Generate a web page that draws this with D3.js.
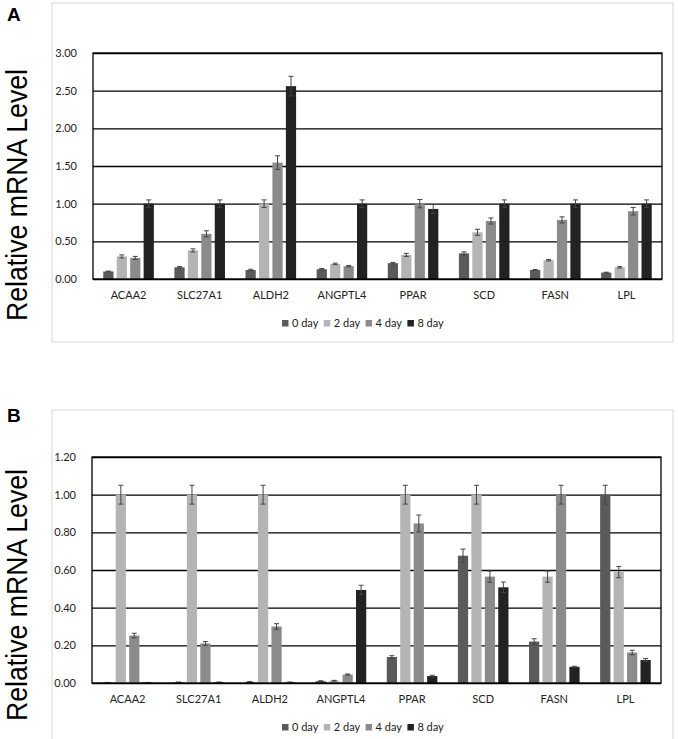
<!DOCTYPE html>
<html>
<head>
<meta charset="utf-8">
<script src="https://cdn.jsdelivr.net/npm/d3@7"></script>
<style>
  body { margin: 0; background: #fff; }
  svg text { font-family: Lato, "Liberation Sans", sans-serif; }
</style>
</head>
<body>
<div id="chart"></div>
<script>
// categories and series
var genes = ["ACAA2", "SLC27A1", "ALDH2", "ANGPTL4", "PPAR", "SCD", "FASN", "LPL"];
var days = ["0 day", "2 day", "4 day", "8 day"];

// panel A values (rows = days)
var valuesA = [
    [0.10, 0.155, 0.12, 0.13, 0.21, 0.34, 0.12, 0.085],
    [0.30, 0.38, 1.00, 0.20, 0.32, 0.62, 0.25, 0.155],
    [0.28, 0.60, 1.545, 0.17, 1.00, 0.77, 0.785, 0.90],
    [1.00, 1.00, 2.56, 1.00, 0.93, 1.00, 1.00, 1.00]
];
var errorsA = [
    [0.005, 0.01, 0.01, 0.01, 0.01, 0.02, 0.005, 0.005],
    [0.02, 0.02, 0.05, 0.01, 0.02, 0.04, 0.01, 0.01],
    [0.02, 0.04, 0.09, 0.01, 0.055, 0.04, 0.04, 0.05],
    [0.05, 0.05, 0.13, 0.05, 0.06, 0.05, 0.05, 0.05]
];
var ticksA = [0, 0.5, 1, 1.5, 2, 2.5, 3];

// panel B values
var valuesB = [
    [0.002, 0.004, 0.006, 0.01, 0.138, 0.676, 0.22, 1.00],
    [1.00, 1.00, 1.00, 0.012, 1.00, 1.00, 0.565, 0.589],
    [0.252, 0.21, 0.30, 0.045, 0.847, 0.565, 1.00, 0.162],
    [0.002, 0.004, 0.004, 0.494, 0.037, 0.508, 0.086, 0.122]
];
var errorsB = [
    [0.001, 0.001, 0.001, 0.002, 0.007, 0.035, 0.015, 0.05],
    [0.05, 0.05, 0.05, 0.002, 0.05, 0.05, 0.03, 0.03],
    [0.012, 0.01, 0.015, 0.003, 0.045, 0.03, 0.05, 0.012],
    [0.001, 0.001, 0.001, 0.025, 0.004, 0.028, 0.003, 0.008]
];
var ticksB = [0, 0.2, 0.4, 0.6, 0.8, 1.0, 1.2];

var colors = ["#5a5a5a", "#b4b4b4", "#8b8b8b", "#222222"];

var svg = d3.select("#chart").append("svg")
    .attr("width", 678)
    .attr("height", 739);

function renderPanel(p) {
    // outer light frame
    svg.append("rect")
        .attr("x", p.frame[0]).attr("y", p.frame[1])
        .attr("width", p.frame[2]).attr("height", p.frame[3])
        .style("fill", "none").style("stroke", "#dcdcdc").style("stroke-width", 1.2);

    svg.append("text")
        .attr("x", 7).attr("y", p.letterY)
        .style("font-family", "Liberation Sans, Arial, sans-serif")
        .style("font-weight", "bold").style("font-size", "19px")
        .text(p.letter);

    // big y label, squeezed a bit along its length like the original
    svg.append("text")
        .attr("transform", "translate(27," + p.labelY + ") rotate(-90)")
        .attr("text-anchor", "middle")
        .attr("textLength", 252)
        .attr("lengthAdjust", "spacingAndGlyphs")
        .style("font-family", "Liberation Sans, Arial, sans-serif")
        .style("font-size", "30px")
        .text("Relative mRNA Level");

    var left = p.plot[0], top = p.plot[1], right = p.plot[2], bottom = p.plot[3];
    var width = right - left, height = bottom - top;

    var g = svg.append("g").attr("transform", "translate(" + left + "," + top + ")");

    var x0 = d3.scaleBand().domain(genes).range([0, width]).paddingInner(0.27).paddingOuter(0.135);
    var x1 = d3.scaleBand().domain(days).range([0, x0.bandwidth()]).paddingInner(0.24).paddingOuter(0.05);
    var y = d3.scaleLinear().domain([0, p.max]).range([height, 0]);

    // gridlines
    g.append("g")
        .call(d3.axisLeft(y).tickValues(p.ticks).tickSize(-width).tickFormat(""))
        .call(function (s) { s.select(".domain").remove(); })
        .selectAll("line").style("stroke", "#000").style("stroke-width", 1.3);

    // y tick labels
    g.append("g")
        .call(d3.axisLeft(y).tickValues(p.ticks).tickSize(0).tickPadding(16).tickFormat(d3.format(".2f")))
        .call(function (s) { s.select(".domain").remove(); })
        .selectAll("text").style("font-size", "11px").style("fill", "#222");

    // x category labels
    g.append("g")
        .attr("transform", "translate(0," + height + ")")
        .call(d3.axisBottom(x0).tickSize(0).tickPadding(12))
        .call(function (s) { s.select(".domain").remove(); })
        .selectAll("text").style("font-size", "11px").style("fill", "#222");

    var rows = [];
    genes.forEach(function (gene, i) {
        days.forEach(function (day, j) {
            rows.push({ gene: gene, day: day, s: j, v: p.values[j][i], e: p.errors[j][i] });
        });
    });

    g.selectAll("rect.bar")
        .data(rows)
        .enter().append("rect")
        .attr("class", "bar")
        .attr("x", function (d) { return x0(d.gene) + x1(d.day); })
        .attr("width", x1.bandwidth())
        .attr("y", function (d) { return y(d.v); })
        .attr("height", function (d) { return height - y(d.v); })
        .style("fill", function (d) { return colors[d.s]; });

    // error bars
    var eb = g.selectAll("g.err")
        .data(rows)
        .enter().append("g")
        .attr("class", "err")
        .attr("transform", function (d) { return "translate(" + (x0(d.gene) + x1(d.day) + x1.bandwidth() / 2) + ",0)"; })
        .style("stroke", "#444").style("stroke-width", 1);
    eb.append("line")
        .attr("y1", function (d) { return y(d.v + d.e); })
        .attr("y2", function (d) { return y(Math.max(0, d.v - d.e)); });
    eb.append("line").attr("x1", -2.5).attr("x2", 2.5)
        .attr("y1", function (d) { return y(d.v + d.e); })
        .attr("y2", function (d) { return y(d.v + d.e); });
    eb.append("line").attr("x1", -2.5).attr("x2", 2.5)
        .attr("y1", function (d) { return y(Math.max(0, d.v - d.e)); })
        .attr("y2", function (d) { return y(Math.max(0, d.v - d.e)); });

    // plot box
    g.append("rect")
        .attr("width", width).attr("height", height)
        .style("fill", "none").style("stroke", "#000").style("stroke-width", 1.3);

    // legend
    var legend = svg.append("g").attr("transform", "translate(282," + p.legendY + ")");
    var item = legend.selectAll("g").data(days).enter().append("g")
        .attr("transform", function (d, i) { return "translate(" + (i * 41.8) + ",0)"; });
    item.append("rect")
        .attr("y", -3).attr("width", 6.5).attr("height", 6.5)
        .style("fill", function (d, i) { return colors[i]; });
    item.append("text")
        .attr("x", 10).attr("dy", "0.38em")
        .style("font-size", "11px").style("fill", "#222")
        .text(function (d) { return d; });
}

renderPanel({
    letter: "A", letterY: 21, labelY: 195,
    frame: [52, 3, 621, 339],
    plot: [93, 53, 662, 279],
    max: 3, ticks: ticksA,
    values: valuesA, errors: errorsA,
    legendY: 323
});

renderPanel({
    letter: "B", letterY: 422, labelY: 595,
    frame: [52, 410, 621, 340],
    plot: [92, 457, 661, 683],
    max: 1.2, ticks: ticksB,
    values: valuesB, errors: errorsB,
    legendY: 727
});
</script>
</body>
</html>
